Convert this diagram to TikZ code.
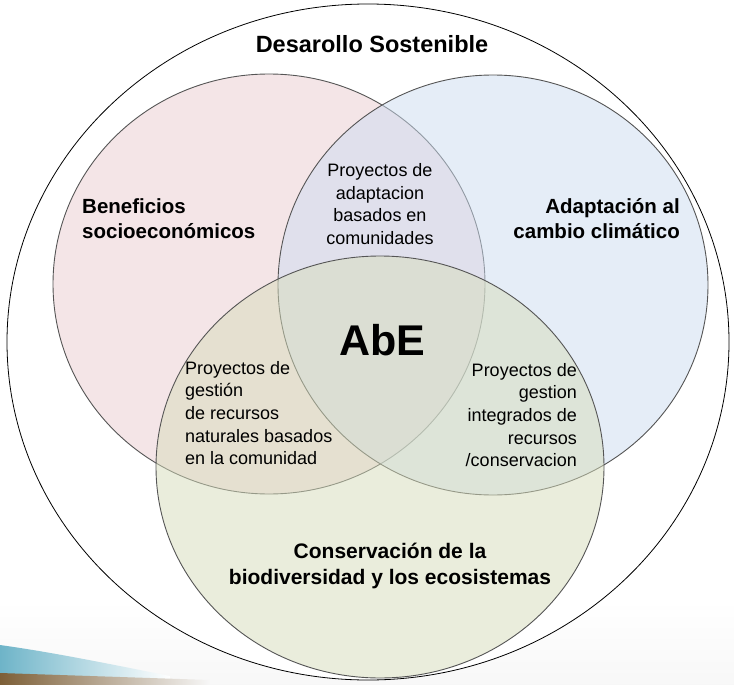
\documentclass[tikz,border=0pt]{standalone}
\usepackage{fontspec}
\setmainfont{Liberation Sans}
\definecolor{pinkc}{RGB}{235,205,209}
\definecolor{bluec}{RGB}{205,221,241}
\definecolor{greenc}{RGB}{215,221,187}
\definecolor{rimc}{RGB}{85,85,85}
\definecolor{tealc}{RGB}{110,180,200}
\definecolor{brownc}{RGB}{125,95,55}
\begin{document}
\begin{tikzpicture}[x=1pt,y=-1pt,
  setc/.style={draw=rimc,line width=0.9pt,fill opacity=0.5,draw opacity=1},
  bigtxt/.style={font=\bfseries\fontsize{20.5}{25}\selectfont,inner sep=0pt},
  smalltxt/.style={font=\fontsize{18}{22.6}\selectfont,inner sep=0pt}]
\useasboundingbox (0,0) rectangle (734,685);
% faint background below the outer ellipse
\fill[white] (0,0) rectangle (734,685);
\shade[top color=white,bottom color=white!94!gray] (0,600) rectangle (734,685);
\shade[left color=tealc,right color=white] (0,645) .. controls (50,652) and (100,662) .. (170,676) -- (170,685) -- (0,685) -- cycle;
\shade[left color=brownc,right color=white!94!gray] (0,673) .. controls (60,675) and (120,677) .. (210,680) -- (210,685) -- (0,685) -- cycle;
% outer ellipse
\draw[black,line width=0.8pt,fill=white] (368,342) ellipse [x radius=361, y radius=338];
% sets
\path[setc,fill=pinkc] (269,284) ellipse [x radius=216, y radius=210];
\path[setc,fill=bluec] (493,285) ellipse [x radius=215, y radius=210];
\path[setc,fill=greenc] (380,467) ellipse [x radius=224, y radius=211];
% texts
\node[font=\bfseries\fontsize{23.5}{28}\selectfont,inner sep=0pt,anchor=base] (title) at (372,52.5) {Desarollo Sostenible};
\node[bigtxt,align=left,anchor=west] (ben) at (82,219) {Beneficios\\socioeconómicos};
\node[bigtxt,align=right,anchor=east] (ada) at (680,219) {Adaptación al\\cambio climático};
\node[bigtxt,align=center,font=\bfseries\fontsize{21}{26}\selectfont] (con) at (390,566) {Conservación de la\\biodiversidad y los ecosistemas};
\node[font=\bfseries\fontsize{43}{50}\selectfont,inner sep=0pt,anchor=base] (abe) at (382,355.5) {AbE};
\node[smalltxt,align=center] (top) at (380,204) {Proyectos de\\adaptacion\\basados en\\comunidades};
\node[smalltxt,align=left,anchor=west] (left) at (185,413) {Proyectos de\\gestión\\de recursos\\naturales basados\\en la comunidad};
\node[smalltxt,align=right,anchor=east] (right) at (577,415) {Proyectos de\\gestion\\integrados de\\recursos\\/conservacion};
\end{tikzpicture}
\end{document}
